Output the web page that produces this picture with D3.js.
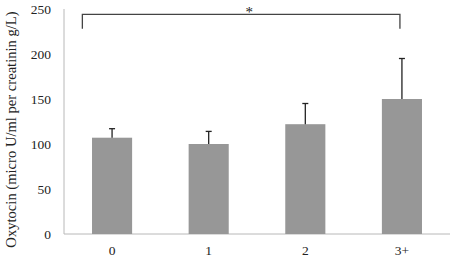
<!DOCTYPE html>
<html><head><meta charset="utf-8">
<script src="https://cdn.jsdelivr.net/npm/d3@7"></script>
<style>body{margin:0;background:#fff}svg{display:block}</style>
</head><body>
<svg id="c" width="454" height="257"></svg>
<script>
const categories = ["0", "1", "2", "3+"];
const values = [107, 100, 122, 150];
const errors = [10, 14, 23, 45];
const yTicks = [0, 50, 100, 150, 200, 250];
const yTitle = "Oxytocin (micro U/ml per creatinin g/L)";
const sigLabel = "*";
const sigLevel = 244;
const sigDrop = 228;

const svg = d3.select("#c");
const m = {l: 64, r: 4, t: 9, b: 23};
const W = 454, H = 257;
const x = d3.scaleBand().domain(categories).range([m.l, W - m.r]).paddingInner(0.585).paddingOuter(0.29);
const y = d3.scaleLinear().domain([0, 250]).range([H - m.b, m.t]);
const font = "'Liberation Serif', 'Times New Roman', serif";

// axes lines
svg.append("line").attr("x1", m.l).attr("x2", m.l).attr("y1", y(250)).attr("y2", y(0)).attr("stroke", "#b8b8b8").attr("stroke-width", 1);
svg.append("line").attr("x1", m.l).attr("x2", W - m.r).attr("y1", y(0)).attr("y2", y(0)).attr("stroke", "#b8b8b8").attr("stroke-width", 1);

// y tick labels
svg.selectAll(".yt").data(yTicks).join("text")
  .attr("x", m.l - 13).attr("y", d => y(d)).attr("dy", "0.35em")
  .attr("text-anchor", "end").attr("font-family", font).attr("font-size", 13.5).attr("fill", "#222")
  .text(d => d);

// x labels
svg.selectAll(".xt").data(categories).join("text")
  .attr("x", d => x(d) + x.bandwidth() / 2).attr("y", y(0) + 16).attr("dy", "0.35em")
  .attr("text-anchor", "middle").attr("font-family", font).attr("font-size", 13.5).attr("fill", "#222")
  .text(d => d);

// y title
svg.append("text").attr("transform", `translate(16,${(y(0) + y(250)) / 2 + 8}) rotate(-90)`)
  .attr("text-anchor", "middle").attr("font-family", font).attr("font-size", 14.6).attr("fill", "#222")
  .text(yTitle);

// bars
svg.selectAll(".bar").data(categories).join("rect")
  .attr("x", d => x(d)).attr("width", x.bandwidth())
  .attr("y", (d, i) => y(values[i])).attr("height", (d, i) => y(0) - y(values[i]))
  .attr("fill", "#979797");

// error bars
const eb = svg.selectAll(".eb").data(categories).join("g");
eb.append("line")
  .attr("x1", d => x(d) + x.bandwidth() / 2).attr("x2", d => x(d) + x.bandwidth() / 2)
  .attr("y1", (d, i) => y(values[i])).attr("y2", (d, i) => y(values[i] + errors[i]))
  .attr("stroke", "#222").attr("stroke-width", 1.3);
eb.append("line")
  .attr("x1", d => x(d) + x.bandwidth() / 2 - 3).attr("x2", d => x(d) + x.bandwidth() / 2 + 3)
  .attr("y1", (d, i) => y(values[i] + errors[i])).attr("y2", (d, i) => y(values[i] + errors[i]))
  .attr("stroke", "#222").attr("stroke-width", 1.3);

// significance bracket
const bx1 = x(categories[0]) - x.step() * 0.1;
const bx2 = x(categories[3]) + x.bandwidth() / 2 - 2;
svg.append("path")
  .attr("d", `M${bx1},${y(sigDrop)}V${y(sigLevel)}H${bx2}V${y(sigDrop)}`)
  .attr("fill", "none").attr("stroke", "#444").attr("stroke-width", 1.3);
svg.append("text").attr("x", (bx1 + bx2) / 2 + 8).attr("y", y(sigLevel) + 3)
  .attr("text-anchor", "middle").attr("font-family", font).attr("font-size", 15).attr("fill", "#222")
  .text(sigLabel);
</script>
</body></html>
